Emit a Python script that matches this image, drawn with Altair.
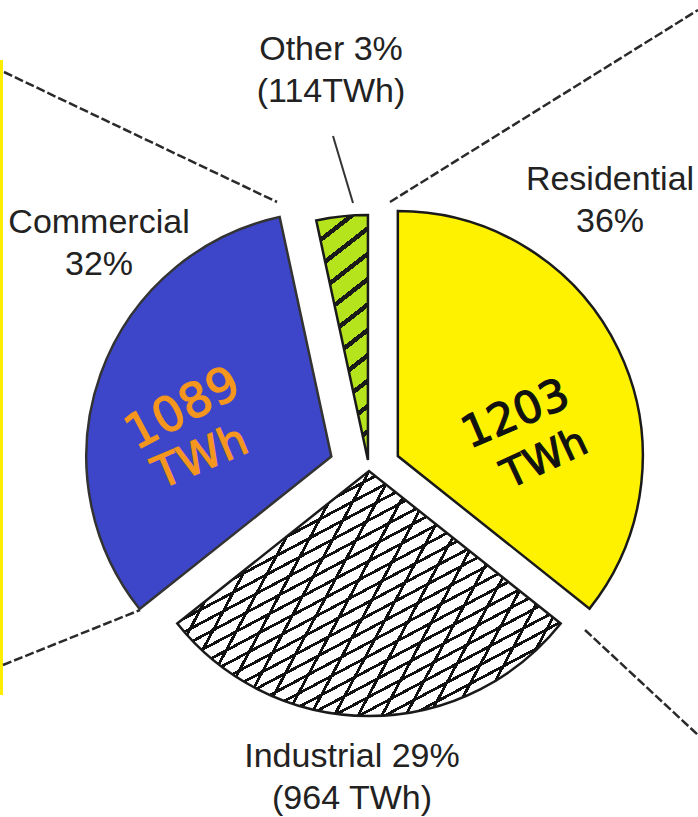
import math
import altair as alt
import pandas as pd

# ---------------- data ----------------
CATEGORIES = ["Residential", "Industrial", "Commercial", "Other"]
TWH = [1203, 964, 1089, 114]
PERCENT = [36, 29, 32, 3]
LABEL_TEXT = ["Residential\n36%", "Industrial 29%\n(964 TWh)", "Commercial\n32%", "Other 3%\n(114TWh)"]
NOTE_TEXT = ["1203", "TWh", "1089", "TWh"]          # handwritten annotations
NOTE_CATEGORY = ["Residential", "Residential", "Commercial", "Commercial"]

# ---------------- style / layout ----------------
W, H = 698, 817
CX, CY = 369, 470          # pie centre (px)
R = 245                    # pie radius (px)
EXPLODE = {"Residential": 32, "Industrial": 1, "Commercial": 40, "Other": 10}
LABEL_OFFSET = {"Residential": (241, -280), "Industrial": (-17, 297),
                "Commercial": (-270, -237), "Other": (-38, -410)}
NOTE_STYLE = [  # (dx, dy, angle, size, colour) relative to pie centre
    (152, -43, 337, 44, "#111111"),
    (181, 0, 335, 40, "#111111"),
    (-179, -48, 332, 48, "#f5961e"),
    (-163, 0, 337, 44, "#f5961e"),
]
FONT = "Liberation Sans, Arial, sans-serif"
HAND_FONT = "DejaVu Sans"
OUTLINE = "#1a1a1a"

# decoration: callout lines of the original figure (x1, y1, x2, y2 in px)
DASHED = [(4, 72, 277, 202), (390, 202, 698, 10), (3, 665, 140, 610), (585, 630, 698, 735)]
LEADER = [(333, 136, 353, 203)]
EDGE = [(1.5, 60, 1.5, 695)]

# ---------------- helpers for hatch gradients ----------------
total = sum(TWH)
starts, ends, acc = [], [], 0
for v in TWH:
    starts.append(acc / total)
    acc += v
    ends.append(acc / total)


def wedge_wh(i):
    a0, a1 = 2 * math.pi * starts[i], 2 * math.pi * ends[i]
    pts = [(0.0, 0.0)]
    for a in (a0, a1):
        pts.append((R * math.sin(a), -R * math.cos(a)))
    for k in range(5):
        a = k * math.pi / 2
        if a0 < a < a1:
            pts.append((R * math.sin(a), -R * math.cos(a)))
    xs = [p[0] for p in pts]
    ys = [p[1] for p in pts]
    return max(xs) - min(xs), max(ys) - min(ys)


def stripes(i, angle_deg, period, thick, line_col, bg_col, phase=0.0):
    w, h = wedge_wh(i)
    phi = math.radians(angle_deg)
    nx, ny = math.sin(phi), math.cos(phi)
    s = [nx * x + ny * y for x, y in [(0, 0), (w, 0), (0, h), (w, h)]]
    smin, smax = min(s), max(s)
    L = smax - smin
    gx, gy = nx * w / L, ny * h / L
    g2 = gx * gx + gy * gy
    dx, dy = gx / g2, gy / g2
    c = smin / L
    p1x, p1y = gx * c / g2, gy * c / g2
    stops = [(0.0, bg_col)]
    k = 0
    while True:
        a = (k * period + phase) / L
        b = (k * period + phase + thick) / L
        if a >= 1:
            break
        a, b = max(a, 0.0), min(b, 1.0)
        stops += [(a, bg_col), (a, line_col), (b, line_col), (b, bg_col)]
        k += 1
    stops.append((1.0, bg_col))
    return alt.LinearGradient(
        gradient="linear",
        stops=[alt.GradientStop(color=col, offset=round(o, 5)) for o, col in stops],
        x1=p1x, y1=p1y, x2=p1x + dx, y2=p1y + dy,
    )


# ---------------- tables ----------------
df = pd.DataFrame({
    "category": CATEGORIES,
    "twh": TWH,
    "order": list(range(len(CATEGORIES))),
    "explode": [EXPLODE[c] for c in CATEGORIES],
})

labels = pd.DataFrame({
    "label": LABEL_TEXT,
    "x": [CX + LABEL_OFFSET[c][0] for c in CATEGORIES],
    "y": [CY + LABEL_OFFSET[c][1] for c in CATEGORIES],
})

notes = pd.DataFrame({
    "text": NOTE_TEXT,
    "x": [CX + s[0] for s in NOTE_STYLE],
    "y": [CY + s[1] for s in NOTE_STYLE],
    "angle": [s[2] for s in NOTE_STYLE],
    "size": [s[3] for s in NOTE_STYLE],
    "color": [s[4] for s in NOTE_STYLE],
})


def seg_df(rows):
    return pd.DataFrame(rows, columns=["x", "y", "x2", "y2"])


def seg_layer(rows, **mark):
    return alt.Chart(seg_df(rows)).mark_rule(**mark).encode(
        x=alt.X("x:Q", scale=None, axis=None),
        y=alt.Y("y:Q", scale=None, axis=None),
        x2="x2:Q",
        y2="y2:Q",
    )


base = (
    alt.Chart(df)
    .transform_joinaggregate(total="sum(twh)")
    .transform_window(cum="sum(twh)", sort=[alt.SortField("order")], frame=[None, 0])
    .transform_calculate(
        f0="(datum.cum - datum.twh) / datum.total",
        f1="datum.cum / datum.total",
    )
    .transform_calculate(mid="PI * (datum.f0 + datum.f1)")
    .transform_calculate(
        px=f"{CX} + datum.explode * sin(datum.mid)",
        py=f"{CY} - datum.explode * cos(datum.mid)",
    )
)

enc = dict(
    theta=alt.Theta("f0:Q", scale=alt.Scale(domain=[0, 1])),
    theta2="f1:Q",
    x=alt.X("px:Q", scale=None, axis=None),
    y=alt.Y("py:Q", scale=None, axis=None),
)


def wedge(cat, **mark):
    return base.transform_filter(alt.datum.category == cat).mark_arc(
        outerRadius=R, **mark).encode(**enc)


i_ind = CATEGORIES.index("Industrial")
i_oth = CATEGORIES.index("Other")

layers = [
    seg_layer(EDGE, color="#ffee00", strokeWidth=3),
    seg_layer(DASHED, color="#2a2a2a", strokeWidth=2.5, strokeDash=[9, 3]),
    seg_layer(LEADER, color="#333333", strokeWidth=2),
    wedge("Residential", fill="#fff200", stroke=OUTLINE, strokeWidth=2.5),
    wedge("Commercial", fill="#3d46c8", stroke="#333333", strokeWidth=2.5),
    wedge("Industrial", fill=stripes(i_ind, 28, 12, 2.8, "#111111", "#ffffff"), strokeWidth=0),
    wedge("Industrial", fill=stripes(i_ind, 62, 21, 2.8, "#111111", "rgba(255,255,255,0)"),
          stroke=OUTLINE, strokeWidth=2.5),
    wedge("Other", fill=stripes(i_oth, 38, 20, 4.5, "#1a1a1a", "#b5e31c"),
          stroke=OUTLINE, strokeWidth=2.5),
    alt.Chart(labels).mark_text(
        align="center", baseline="alphabetic", font=FONT, fontSize=34,
        lineHeight=42, lineBreak="\n", color="#222222",
    ).encode(
        x=alt.X("x:Q", scale=None, axis=None),
        y=alt.Y("y:Q", scale=None, axis=None),
        text="label:N",
    ),
    alt.Chart(notes).mark_text(align="center", baseline="alphabetic", font=HAND_FONT,
                               strokeWidth=1.2).encode(
        x=alt.X("x:Q", scale=None, axis=None),
        y=alt.Y("y:Q", scale=None, axis=None),
        text="text:N",
        angle=alt.Angle("angle:Q", scale=None),
        size=alt.Size("size:Q", scale=None),
        color=alt.Color("color:N", scale=None),
        stroke=alt.Stroke("color:N", scale=None),
    ),
]

chart = (
    alt.layer(*layers)
    .properties(width=W, height=H, padding=0, autosize="none", background="#ffffff")
    .configure_view(strokeWidth=0)
)

chart.save("out.html", embed_options={"renderer": "svg", "actions": False})
